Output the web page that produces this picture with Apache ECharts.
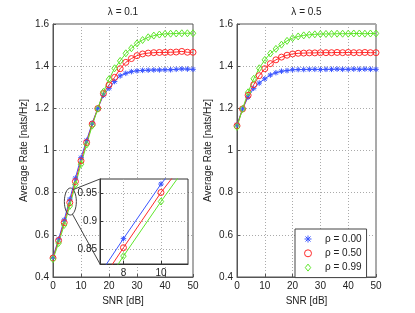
<!DOCTYPE html>
<html><head><meta charset="utf-8">
<script src="https://cdn.jsdelivr.net/npm/echarts@6/dist/echarts.min.js"></script>
<style>html,body{margin:0;padding:0;background:#fff}#c{width:415px;height:313px}</style>
</head><body><div id="c"></div>
<script>
// ---- data ----
const snr = [0,2,4,6,8,10,12,14,16,18,20,22,24,26,28,30,32,34,36,38,40,42,44,46,48,50];
const seriesNames = ['ρ = 0.00', 'ρ = 0.50', 'ρ = 0.99'];
const titles = ['λ = 0.1', 'λ = 0.5'];
// lambda = 0.1
const rate01_rho000 = [0.495,0.580,0.671,0.769,0.869,0.966,1.048,1.130,1.200,1.262,1.295,1.327,1.354,1.366,1.374,1.378,1.380,1.381,1.382,1.382,1.383,1.383,1.385,1.387,1.386,1.385];
const rate01_rho050 = [0.490,0.573,0.658,0.753,0.853,0.951,1.038,1.125,1.199,1.270,1.311,1.347,1.388,1.418,1.436,1.450,1.458,1.462,1.464,1.465,1.465,1.466,1.467,1.470,1.466,1.466];
const rate01_rho099 = [0.485,0.561,0.647,0.737,0.838,0.935,1.028,1.118,1.198,1.278,1.338,1.390,1.425,1.461,1.485,1.508,1.524,1.537,1.545,1.550,1.553,1.554,1.555,1.556,1.556,1.556];
// lambda = 0.5
const rate05_rho000 = [1.122,1.197,1.253,1.295,1.320,1.340,1.358,1.369,1.376,1.379,1.383,1.384,1.384,1.385,1.385,1.384,1.385,1.385,1.386,1.385,1.385,1.386,1.385,1.386,1.385,1.385];
const rate05_rho050 = [1.117,1.197,1.262,1.312,1.355,1.388,1.412,1.430,1.443,1.452,1.458,1.461,1.462,1.463,1.463,1.464,1.464,1.464,1.465,1.464,1.465,1.464,1.464,1.465,1.464,1.464];
const rate05_rho099 = [1.112,1.197,1.276,1.340,1.390,1.430,1.460,1.482,1.502,1.520,1.533,1.541,1.546,1.549,1.551,1.552,1.553,1.553,1.554,1.554,1.554,1.555,1.555,1.554,1.555,1.555];
// axes
const xRange = [0, 50], xStep = 10;
const yRange = [0.4, 1.6], yStep = 0.2;
const insetX = [6.75, 11.44], insetXTicks = [8, 10];
const insetY = [0.824, 0.975], insetYTicks = [0.85, 0.9, 0.95];
const zoomPoint = [6.2, 0.758];

// ---- style ----
const FONT = "'Liberation Sans', Arial, sans-serif";
const COLORS = ['#3a55ff', '#ff2a2a', '#5ee62a'];
const SYMBOLS = [
  'path://M0,-1L0,1M-1,0L1,0M-0.72,-0.72L0.72,0.72M-0.72,0.72L0.72,-0.72',
  'path://M1,0A1,1,0,1,1,-1,0A1,1,0,1,1,1,0Z',
  'path://M0,-1.1L0.85,0L0,1.1L-0.85,0Z'
];
const SIZES = [5.5, 6, 7];
const AX = '#555';

function mkSeries(arrs, xi, yi, z) {
  return arrs.map((a, i) => ({
    name: seriesNames[i], type: 'line', xAxisIndex: xi, yAxisIndex: yi,
    data: snr.map((x, k) => [x, a[k]]),
    symbol: SYMBOLS[i], symbolSize: SIZES[i], symbolKeepAspect: true,
    showAllSymbol: true, clip: true, z: z, animation: false,
    lineStyle: { color: COLORS[i], width: 1 },
    itemStyle: { color: 'transparent', borderColor: COLORS[i], borderWidth: 1 },
    emphasis: { disabled: true }
  }));
}
function mainX(gi) {
  return { gridIndex: gi, type: 'value', min: xRange[0], max: xRange[1], interval: xStep,
    name: 'SNR [dB]', nameLocation: 'middle', nameGap: 15,
    nameTextStyle: { fontFamily: FONT, fontSize: 10, color: '#222' },
    axisLine: { onZero: false, lineStyle: { color: AX } },
    axisTick: { inside: true, length: 3, lineStyle: { color: AX } },
    axisLabel: { fontFamily: FONT, fontSize: 10, color: '#222', margin: 4 },
    splitLine: { show: true, lineStyle: { color: '#aaa', type: [1, 2], width: 1 } } };
}
function mainY(gi) {
  return { gridIndex: gi, type: 'value', min: yRange[0], max: yRange[1], interval: yStep,
    name: 'Average Rate [nats/Hz]', nameLocation: 'middle', nameGap: 24,
    nameTextStyle: { fontFamily: FONT, fontSize: 10, color: '#222' },
    axisLine: { onZero: false, lineStyle: { color: AX } },
    axisTick: { inside: true, length: 3, lineStyle: { color: AX } },
    axisLabel: { fontFamily: FONT, fontSize: 10, color: '#222', margin: 4,
      formatter: v => String(+v.toFixed(2)) },
    splitLine: { show: true, lineStyle: { color: '#aaa', type: [1, 2], width: 1 } } };
}

const chart = echarts.init(document.getElementById('c'), null, { renderer: 'canvas' });
const option = {
  animation: false,
  backgroundColor: '#fff',
  grid: [
    { left: 53, right: 222, top: 24, bottom: 36, show: true, borderColor: AX, borderWidth: 1, backgroundColor: '#fff' },
    { left: 237, right: 39, top: 24, bottom: 36, show: true, borderColor: AX, borderWidth: 1, backgroundColor: '#fff' },
    { left: 100, top: 179, width: 88, height: 85, show: true, borderColor: '#333', borderWidth: 1, backgroundColor: '#fff', z: 5 }
  ],
  xAxis: [mainX(0), mainX(1), {
    gridIndex: 2, type: 'value', min: insetX[0], max: insetX[1], z: 6,
    axisLine: { onZero: false, lineStyle: { color: '#333' } },
    axisTick: { inside: true, length: 3, customValues: insetXTicks, lineStyle: { color: '#333' } },
    axisLabel: { customValues: insetXTicks, fontFamily: FONT, fontSize: 10, color: '#222', margin: 4 },
    splitLine: { show: true, lineStyle: { color: '#aaa', type: [1, 2] } } }],
  yAxis: [mainY(0), mainY(1), {
    gridIndex: 2, type: 'value', min: insetY[0], max: insetY[1], z: 6,
    axisLine: { onZero: false, lineStyle: { color: '#333' } },
    axisTick: { inside: true, length: 3, customValues: insetYTicks, lineStyle: { color: '#333' } },
    axisLabel: { customValues: insetYTicks, fontFamily: FONT, fontSize: 10, color: '#222', margin: 3,
      formatter: v => String(+v.toFixed(2)) },
    splitLine: { show: true, lineStyle: { color: '#aaa', type: [1, 2] } } }],
  legend: {
    left: 295, top: 229, orient: 'vertical', padding: [4, 5, 4, 9],
    itemWidth: 24, itemHeight: 7, itemGap: 2.3,
    backgroundColor: '#fff', borderColor: '#444', borderWidth: 1, borderRadius: 0,
    selectedMode: false, z: 20,
    textStyle: { fontFamily: FONT, fontSize: 10, color: '#222', lineHeight: 12 },
    data: seriesNames.map((n, i) => ({ name: n, icon: SYMBOLS[i],
      itemStyle: { color: 'transparent', borderColor: COLORS[i], borderWidth: 1 } }))
  },
  series: [].concat(
    mkSeries([rate01_rho000, rate01_rho050, rate01_rho099], 0, 0, 2),
    mkSeries([rate05_rho000, rate05_rho050, rate05_rho099], 1, 1, 2),
    mkSeries([rate01_rho000, rate01_rho050, rate01_rho099], 2, 2, 7)
  )
};
chart.setOption(option);

// annotations: titles, zoom ellipse and connector lines
const t0 = chart.convertToPixel({ gridIndex: 0 }, [(xRange[0] + xRange[1]) / 2, yRange[1]]);
const t1 = chart.convertToPixel({ gridIndex: 1 }, [(xRange[0] + xRange[1]) / 2, yRange[1]]);
const ep = chart.convertToPixel({ gridIndex: 0 }, zoomPoint);
const tl = chart.convertToPixel({ gridIndex: 2 }, [insetX[0], insetY[1]]);
const bl = chart.convertToPixel({ gridIndex: 2 }, [insetX[0], insetY[0]]);
const rx = 6, ry = 13.5;
chart.setOption({
  graphic: [
    { type: 'text', x: t0[0], y: t0[1] - 12, z: 30, style: { text: titles[0], align: 'center', verticalAlign: 'middle', fontFamily: FONT, fontSize: 10, fill: '#222' } },
    { type: 'text', x: t1[0], y: t1[1] - 12, z: 30, style: { text: titles[1], align: 'center', verticalAlign: 'middle', fontFamily: FONT, fontSize: 10, fill: '#222' } },
    { type: 'ellipse', z: 30, shape: { cx: ep[0], cy: ep[1], rx: rx, ry: ry }, style: { fill: 'none', stroke: '#444', lineWidth: 1 } },
    { type: 'line', z: 30, shape: { x1: ep[0] + 3, y1: ep[1] - ry + 1.5, x2: tl[0], y2: tl[1] }, style: { stroke: '#444', lineWidth: 1 } },
    { type: 'line', z: 30, shape: { x1: ep[0] + 2, y1: ep[1] + ry - 1, x2: bl[0], y2: bl[1] }, style: { stroke: '#444', lineWidth: 1 } }
  ]
});
</script>
</body></html>
